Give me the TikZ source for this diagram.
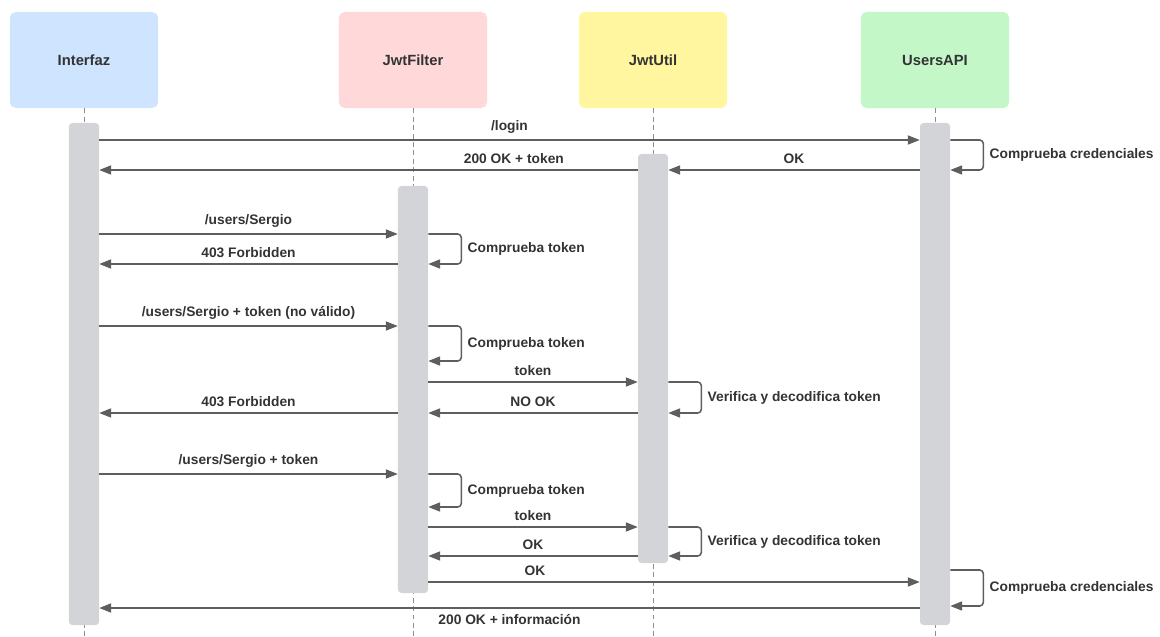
\documentclass[tikz,border=0pt]{standalone}
\usepackage{fontspec}
\setmainfont{Liberation Sans}
\usetikzlibrary{arrows.meta, positioning}
\definecolor{interfaz_blue}{HTML}{CFE4FF}
\definecolor{filter_pink}{HTML}{FFD8DA}
\definecolor{util_yellow}{HTML}{FFF69F}
\definecolor{api_green}{HTML}{C3F7C8}
\definecolor{bar_grey}{HTML}{D3D4D7}
\definecolor{line_grey}{HTML}{5E5E5E}
\definecolor{text_grey}{HTML}{333333}
\tikzset{
  partbox/.style={rounded corners=4pt, minimum width=3.7cm, minimum height=2.4cm,
    text=text_grey, font=\fontsize{10.5}{12}\selectfont\bfseries},
  actbar/.style={fill=bar_grey, rounded corners=2.5pt, minimum width=0.75cm, inner sep=0pt},
  lifeline/.style={line_grey!70, line width=0.5pt, dash pattern=on 3.5pt off 2.5pt},
  msg/.style={line_grey, line width=1.1pt, -{Triangle[length=8.5pt,width=6.5pt]}},
  selfmsg/.style={msg, rounded corners=2.5pt},
  lbl/.style={text=text_grey, font=\fontsize{9.8}{11}\selectfont\bfseries, inner sep=4pt}
}

\begin{document}
\begin{tikzpicture}[x=0.025cm, y=-0.025cm, line join=round]
  \useasboundingbox (0,0) rectangle (1160,637);

  % participants and lifelines
  \foreach \name/\txt/\x/\col in {pI/Interfaz/84/interfaz_blue, pF/JwtFilter/413/filter_pink,
      pU/JwtUtil/653/util_yellow, pA/UsersAPI/935/api_green}{
    \node[partbox, fill=\col] (\name) at (\x,60) {\txt};
    \draw[lifeline] (\name.south) -- (\x,637);
  }

  % activation bars
  \node[actbar, minimum height=12.55cm]  (bI) at (84,374) {};
  \node[actbar, minimum height=10.175cm] (bF) at (413,389.5) {};
  \node[actbar, minimum height=10.225cm] (bU) at (653,358.5) {};
  \node[actbar, minimum height=12.55cm]  (bA) at (935,374) {};

  % login
  \draw[msg] (bI.east |- 0,140) -- node[lbl, above] {/login} (bA.west |- 0,140);
  \draw[selfmsg] (bA.east |- 0,140) -- ++(33,0) |- node[lbl, right, pos=0.25] {Comprueba credenciales} (bA.east |- 0,170);
  \draw[msg] (bA.west |- 0,170) -- node[lbl, above] {OK} (bU.east |- 0,170);
  \draw[msg] (bU.west |- 0,170) -- node[lbl, above, pos=0.23] {200 OK + token} (bI.east |- 0,170);

  % sin token
  \draw[msg] (bI.east |- 0,234) -- node[lbl, above] {/users/Sergio} (bF.west |- 0,234);
  \draw[selfmsg] (bF.east |- 0,234) -- ++(33,0) |- node[lbl, right, pos=0.25] {Comprueba token} (bF.east |- 0,264);
  \draw[msg] (bF.west |- 0,264) -- node[lbl, above] {403 Forbidden} (bI.east |- 0,264);

  % token no valido
  \draw[msg] (bI.east |- 0,326) -- node[lbl, above] {/users/Sergio + token (no válido)} (bF.west |- 0,326);
  \draw[selfmsg] (bF.east |- 0,326) -- ++(33,0) |- node[lbl, right, pos=0.25] {Comprueba token} (bF.east |- 0,361);
  \draw[msg] (bF.east |- 0,382) -- node[lbl, above] {token} (bU.west |- 0,382);
  \draw[selfmsg] (bU.east |- 0,382) -- ++(33,0) |- node[lbl, right, pos=0.25] {Verifica y decodifica token} (bU.east |- 0,413);
  \draw[msg] (bU.west |- 0,413) -- node[lbl, above] {NO OK} (bF.east |- 0,413);
  \draw[msg] (bF.west |- 0,413) -- node[lbl, above] {403 Forbidden} (bI.east |- 0,413);

  % token valido
  \draw[msg] (bI.east |- 0,474) -- node[lbl, above] {/users/Sergio + token} (bF.west |- 0,474);
  \draw[selfmsg] (bF.east |- 0,474) -- ++(33,0) |- node[lbl, right, pos=0.25] {Comprueba token} (bF.east |- 0,507);
  \draw[msg] (bF.east |- 0,527) -- node[lbl, above] {token} (bU.west |- 0,527);
  \draw[selfmsg] (bU.east |- 0,527) -- ++(33,0) |- node[lbl, right, pos=0.25] {Verifica y decodifica token} (bU.east |- 0,556);
  \draw[msg] (bU.west |- 0,556) -- node[lbl, above] {OK} (bF.east |- 0,556);
  \draw[msg] (bF.east |- 0,582) -- node[lbl, above, pos=0.217] {OK} (bA.west |- 0,582);
  \draw[selfmsg] (bA.east |- 0,570) -- ++(33,0) |- node[lbl, right, pos=0.25] {Comprueba credenciales} (bA.east |- 0,606);
  \draw[msg] (bA.west |- 0,608) -- node[lbl, below] {200 OK + información} (bI.east |- 0,608);
\end{tikzpicture}
\end{document}
